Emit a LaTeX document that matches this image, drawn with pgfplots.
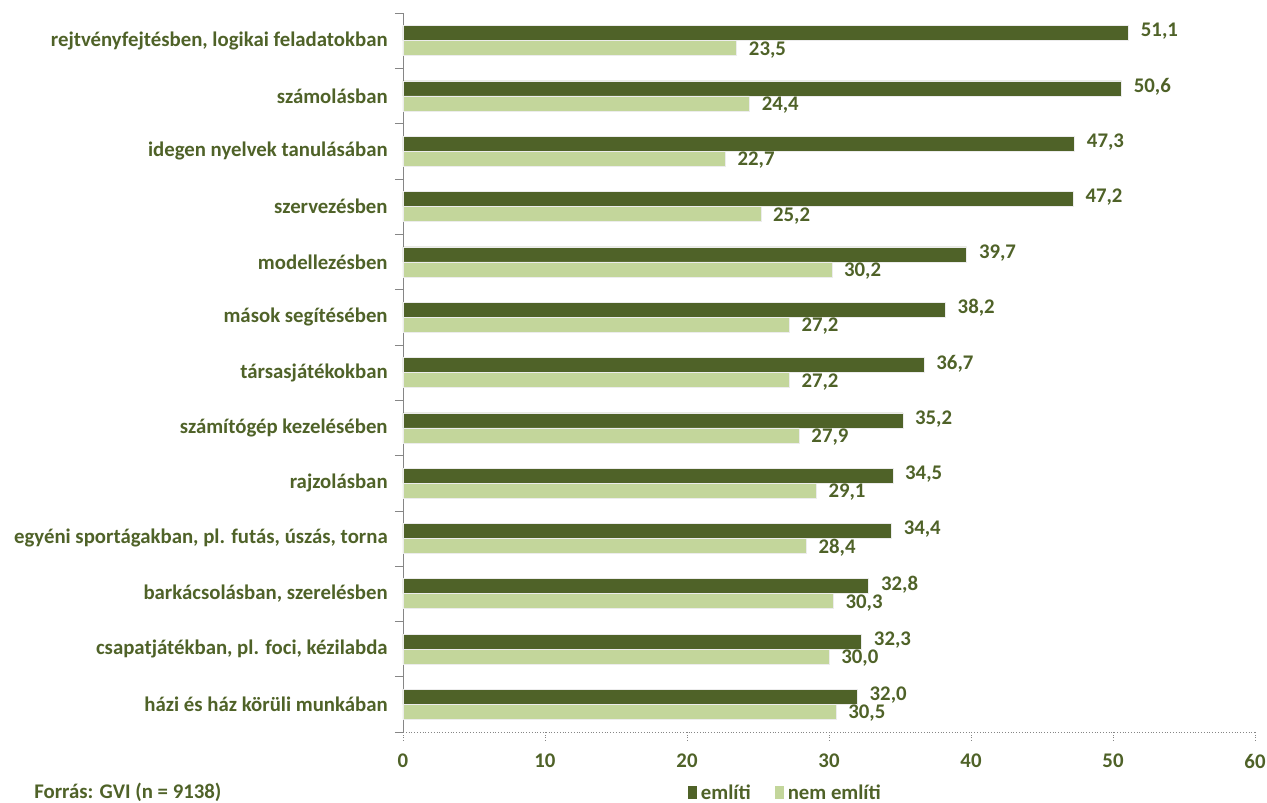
\documentclass[border=0pt]{standalone}
\usepackage{pgfplots}
\pgfplotsset{compat=1.18}
\usepackage{fontspec}
\setmainfont{Carlito}
\definecolor{dkgreen}{HTML}{4F6228}
\definecolor{ltgreen}{HTML}{C3D69B}
\definecolor{axgray}{HTML}{868686}

\begin{document}
\fontsize{10.4}{12}\selectfont\bfseries
\begin{tikzpicture}
\begin{axis}[
    xbar,
    width=426pt, height=359.5pt,
    scale only axis,
    clip=false,
    bar width=7.5pt,
    xmin=0, xmax=60,
    ymin=-0.5, ymax=12.5,
    xtick={0,10,...,60},
    ytick={0,...,12},
    yticklabels={{h\'azi \'es h\'az k\"or\"uli munk\'aban},
        {csapatj\'at\'ekban, pl. foci, k\'ezilabda},
        {bark\'acsol\'asban, szerel\'esben},
        {egy\'eni sport\'agakban, pl. fut\'as, \'usz\'as, torna},
        {rajzol\'asban},
        {sz\'am\'it\'og\'ep kezel\'es\'eben},
        {t\'arsasj\'at\'ekokban},
        {m\'asok seg\'it\'es\'eben},
        {modellez\'esben},
        {szervez\'esben},
        {idegen nyelvek tanul\'as\'aban},
        {sz\'amol\'asban},
        {rejtv\'enyfejt\'esben, logikai feladatokban}},
    minor ytick={-0.5,0.5,...,12.5},
    major y tick style={draw=none},
    minor y tick style={axgray},
    minor tick length=4pt,
    major tick length=4pt,
    tick align=outside,
    xtick style={axgray, densely dotted},
    axis x line*=bottom,
    axis y line*=left,
    x axis line style={axgray, densely dotted},
    y axis line style={axgray},
    ticklabel style={text=dkgreen, font=\bfseries},
    xticklabel style={yshift=-3.5pt},
    /pgf/number format/assume math mode=true,
    nodes near coords,
    nodes near coords style={text=dkgreen, font=\bfseries, inner sep=1.5pt,
        /pgf/number format/fixed, /pgf/number format/fixed zerofill,
        /pgf/number format/precision=1, /pgf/number format/use comma,
        /pgf/number format/assume math mode=true, xshift=4.5pt},
    legend style={at={(0.45,0)}, anchor=north, yshift=-22pt, draw=none,
        legend columns=-1, text=dkgreen, font=\bfseries,
        /tikz/every even column/.append style={column sep=10pt}},
    legend image code/.code={\fill[#1,draw=none] (0pt,-3pt) rectangle (4.5pt,3.5pt);},
]
\addplot[fill=dkgreen, draw=white!85!gray, line width=0.3pt, bar shift=3.75pt,
    nodes near coords style={yshift=0.8pt}] coordinates {
(51.1,12) (50.6,11) (47.3,10) (47.2,9) (39.7,8) (38.2,7) (36.7,6)
(35.2,5) (34.5,4) (34.4,3) (32.8,2) (32.3,1) (32.0,0)};
\addplot[fill=ltgreen, draw=white!85!gray, line width=0.3pt, bar shift=-3.75pt,
    nodes near coords style={yshift=-0.8pt}] coordinates {
(23.5,12) (24.4,11) (22.7,10) (25.2,9) (30.2,8) (27.2,7) (27.2,6)
(27.9,5) (29.1,4) (28.4,3) (30.3,2) (30.0,1) (30.5,0)};
\legend{eml\'iti, nem eml\'iti}
\coordinate (sw) at (rel axis cs:0,0);
\node[anchor=base west, text=dkgreen, font=\bfseries] at ([xshift=-188pt,yshift=-33pt]rel axis cs:0,0) {Forr\'as: GVI (n = 9138)};
\end{axis}
\pgfresetboundingbox
\path ([xshift=-201.5pt,yshift=-35pt]sw) rectangle ([xshift=432pt,yshift=366pt]sw);
\end{tikzpicture}
\end{document}
